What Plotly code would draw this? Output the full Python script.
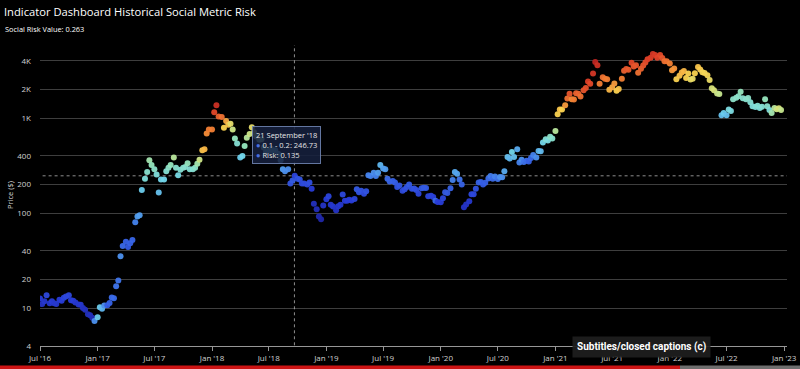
import math
import pandas as pd
import plotly.graph_objects as go

months = pd.date_range("2016-07-01", "2022-12-01", freq="MS")
day_offsets = [0, 7, 14, 21]

price = [
    # 2016 Jul..Dec
    12.6, 11.0, 11.8, 13.6,
    11.2, 11.8, 11.2, 11.0,
    12.2, 11.9, 12.8, 13.2,
    13.6, 12.1, 11.9, 11.4,
    10.9, 10.8, 10.0, 9.6,
    8.6, 8.4, 7.9, 7.3,
    # 2017
    8.0, 10.2, 9.8, 10.6,
    10.7, 11.3, 12.9, 12.7,
    17.0, 19.5, 35.0, 45.0,
    50.0, 44.0, 48.0, 52.0,
    80.0, 92.0, 95.0, 175.0,
    230.0, 270.0, 360.0, 320.0,
    290.0, 255.0, 165.0, 225.0,
    225.0, 275.0, 300.0, 320.0,
    385.0, 300.0, 250.0, 285.0,
    300.0, 305.0, 335.0, 290.0,
    290.0, 300.0, 330.0, 365.0,
    460.0, 470.0, 690.0, 760.0,
    # 2018
    760.0, 1150.0, 1370.0, 1040.0,
    1030.0, 790.0, 930.0, 850.0,
    870.0, 760.0, 610.0, 540.0,
    385.0, 400.0, 510.0, 620.0,
    680.0, 800.0, 710.0, 640.0,
    590.0, 600.0, 490.0, 440.0,
    450.0, 480.0, 450.0, 460.0,
    420.0, 360.0, 290.0, 275.0,
    290.0, 205.0, 220.0, 246.73,
    230.0, 225.0, 205.0, 205.0,
    200.0, 210.0, 180.0, 125.0,
    110.0, 92.0, 86.0, 120.0,
    # 2019
    140.0, 150.0, 122.0, 117.0,
    107.0, 118.0, 122.0, 157.0,
    135.0, 135.0, 138.0, 136.0,
    141.0, 178.0, 166.0, 172.0,
    160.0, 170.0, 250.0, 245.0,
    265.0, 245.0, 265.0, 320.0,
    295.0, 290.0, 230.0, 215.0,
    218.0, 210.0, 188.0, 195.0,
    172.0, 178.0, 188.0, 200.0,
    180.0, 181.0, 175.0, 160.0,
    182.0, 185.0, 184.0, 150.0,
    152.0, 148.0, 135.0, 131.0,
    # 2020
    130.0, 143.0, 166.0, 163.0,
    183.0, 223.0, 270.0, 260.0,
    225.0, 200.0, 115.0, 123.0,
    133.0, 158.0, 158.0, 180.0,
    210.0, 212.0, 200.0, 208.0,
    231.0, 245.0, 230.0, 243.0,
    228.0, 240.0, 238.0, 275.0,
    390.0, 375.0, 440.0, 390.0,
    470.0, 340.0, 365.0, 345.0,
    355.0, 350.0, 380.0, 410.0,
    385.0, 450.0, 447.0, 555.0,
    600.0, 580.0, 635.0, 610.0,
    # 2021
    730.0, 1100.0, 1230.0, 1230.0,
    1370.0, 1610.0, 1800.0, 1580.0,
    1570.0, 1830.0, 1800.0, 1690.0,
    1970.0, 2080.0, 2430.0, 2300.0,
    2950.0, 3900.0, 3600.0, 2300.0,
    2700.0, 2600.0, 2560.0, 1990.0,
    2110.0, 2320.0, 1940.0, 2030.0,
    2600.0, 3160.0, 3300.0, 3230.0,
    3830.0, 3500.0, 3600.0, 3000.0,
    3310.0, 3580.0, 3860.0, 4170.0,
    4320.0, 4730.0, 4630.0, 4320.0,
    4630.0, 4300.0, 3960.0, 3980.0,
    # 2022
    3770.0, 3200.0, 3330.0, 2560.0,
    2790.0, 3030.0, 3130.0, 2640.0,
    2950.0, 2550.0, 2600.0, 2970.0,
    3450.0, 3260.0, 3040.0, 2990.0,
    2830.0, 2520.0, 2060.0, 1970.0,
    1820.0, 1790.0, 1070.0, 1130.0,
    1070.0, 1230.0, 1190.0, 1580.0,
    1640.0, 1700.0, 1900.0, 1620.0,
    1580.0, 1630.0, 1470.0, 1330.0,
    1310.0, 1350.0, 1280.0, 1320.0,
    1580.0, 1330.0, 1220.0, 1130.0,
    1280.0, 1240.0, 1270.0, 1220.0,
]

risk = [
    # 2016
    0.12, 0.08, 0.10, 0.15,
    0.10, 0.12, 0.10, 0.10,
    0.12, 0.12, 0.14, 0.15,
    0.15, 0.12, 0.12, 0.10,
    0.10, 0.10, 0.08, 0.07,
    0.06, 0.06, 0.05, 0.30,
    # 2017
    0.40, 0.40, 0.36, 0.30,
    0.20, 0.22, 0.24, 0.24,
    0.26, 0.26, 0.30, 0.24,
    0.22, 0.20, 0.22, 0.23,
    0.28, 0.32, 0.32, 0.40,
    0.45, 0.47, 0.52, 0.50,
    0.48, 0.45, 0.38, 0.42,
    0.42, 0.46, 0.48, 0.50,
    0.55, 0.47, 0.43, 0.46,
    0.47, 0.47, 0.50, 0.46,
    0.46, 0.48, 0.52, 0.58,
    0.68, 0.70, 0.76, 0.78,
    # 2018
    0.78, 0.86, 0.92, 0.82,
    0.80, 0.66, 0.72, 0.68,
    0.62, 0.58, 0.50, 0.46,
    0.40, 0.42, 0.50, 0.55,
    0.58, 0.62, 0.60, 0.56,
    0.52, 0.52, 0.46, 0.44,
    0.42, 0.44, 0.42, 0.42,
    0.40, 0.38, 0.32, 0.30,
    0.30, 0.18, 0.20, 0.135,
    0.18, 0.18, 0.16, 0.16,
    0.16, 0.17, 0.12, 0.06,
    0.05, 0.03, 0.02, 0.08,
    # 2019
    0.12, 0.14, 0.10, 0.10,
    0.08, 0.10, 0.10, 0.15,
    0.12, 0.12, 0.12, 0.12,
    0.14, 0.20, 0.18, 0.18,
    0.16, 0.18, 0.28, 0.28,
    0.30, 0.28, 0.32, 0.36,
    0.33, 0.32, 0.25, 0.23,
    0.22, 0.21, 0.18, 0.19,
    0.16, 0.17, 0.18, 0.20,
    0.18, 0.18, 0.17, 0.15,
    0.20, 0.20, 0.20, 0.14,
    0.14, 0.13, 0.24, 0.12,
    # 2020
    0.12, 0.15, 0.20, 0.20,
    0.22, 0.28, 0.34, 0.33,
    0.26, 0.22, 0.08, 0.08,
    0.10, 0.15, 0.15, 0.18,
    0.22, 0.22, 0.20, 0.21,
    0.25, 0.27, 0.25, 0.28,
    0.26, 0.30, 0.30, 0.34,
    0.38, 0.36, 0.42, 0.38,
    0.34, 0.28, 0.30, 0.26,
    0.25, 0.22, 0.24, 0.28,
    0.30, 0.36, 0.37, 0.42,
    0.46, 0.44, 0.48, 0.47,
    # 2021
    0.55, 0.66, 0.68, 0.66,
    0.74, 0.80, 0.84, 0.76,
    0.78, 0.82, 0.82, 0.80,
    0.84, 0.85, 0.88, 0.86,
    0.90, 0.95, 0.92, 0.78,
    0.80, 0.79, 0.78, 0.70,
    0.72, 0.74, 0.66, 0.68,
    0.78, 0.82, 0.84, 0.83,
    0.86, 0.84, 0.84, 0.80,
    0.82, 0.84, 0.85, 0.87,
    0.88, 0.90, 0.89, 0.87,
    0.86, 0.84, 0.80, 0.80,
    # 2022
    0.78, 0.74, 0.75, 0.66,
    0.68, 0.70, 0.70, 0.66,
    0.66, 0.63, 0.63, 0.66,
    0.68, 0.67, 0.65, 0.65,
    0.65, 0.63, 0.60, 0.60,
    0.58, 0.57, 0.38, 0.40,
    0.38, 0.44, 0.44, 0.48,
    0.48, 0.48, 0.50, 0.47,
    0.47, 0.48, 0.46, 0.45,
    0.45, 0.46, 0.45, 0.46,
    0.50, 0.47, 0.45, 0.52,
    0.55, 0.58, 0.60, 0.57,
]

dates = [m + pd.Timedelta(days=d) for m in months for d in day_offsets]

y_tickvals = [4, 10, 20, 40, 100, 200, 400, 1000, 2000, 4000]
y_ticktext = ["4", "10", "20", "40", "100", "200", "400", "1K", "2K", "4K"]

hover_date = "2018-09-21"
hover_price = 246.73
hover_risk = 0.135

colorscale = [
    [0.00, "rgb(30,35,160)"],
    [0.12, "rgb(40,60,215)"],
    [0.25, "rgb(60,110,235)"],
    [0.33, "rgb(85,165,240)"],
    [0.42, "rgb(115,215,235)"],
    [0.50, "rgb(150,230,190)"],
    [0.58, "rgb(205,230,135)"],
    [0.66, "rgb(250,210,80)"],
    [0.76, "rgb(245,140,55)"],
    [0.87, "rgb(225,65,40)"],
    [1.00, "rgb(165,20,30)"],
]

fig = go.Figure()

# crosshair
fig.add_trace(go.Scatter(x=[hover_date, hover_date], y=[3.5, 7000], mode="lines",
                         line=dict(color="rgba(190,190,190,0.75)", width=1, dash="dot"),
                         hoverinfo="skip", showlegend=False))
fig.add_trace(go.Scatter(x=["2016-06-01", "2023-02-01"], y=[hover_price, hover_price], mode="lines",
                         line=dict(color="rgba(190,190,190,0.75)", width=1, dash="dot"),
                         hoverinfo="skip", showlegend=False))

fig.add_trace(go.Scatter(
    x=dates, y=price, mode="markers",
    marker=dict(size=6, color=risk, cmin=0, cmax=1, colorscale=colorscale,
                showscale=False, opacity=0.95, line=dict(width=0)),
    showlegend=False,
))

FONT = "Open Sans"
W, H = 800, 369
L, R, T, B = 40, 13, 45, 23
pw, ph = W - L - R, H - T - B


def px(xp):
    return (xp - L) / pw


def py(yp):
    return (H - B - yp) / ph


fig.update_layout(
    width=W, height=H,
    margin=dict(l=L, r=R, t=T, b=B, autoexpand=False),
    paper_bgcolor="black", plot_bgcolor="black",
    hovermode=False,
    font=dict(family=FONT, color="#d8d8d8", size=8),
    title=dict(text="Indicator Dashboard Historical Social Metric Risk",
               x=4 / W, xanchor="left", xref="container",
               y=1 - 12 / H, yanchor="middle", yref="container",
               font=dict(family=FONT, size=11.2, color="white")),
    xaxis=dict(
        type="date", range=["2016-07-01", "2023-01-10"], automargin=False,
        tick0="2016-07-01", dtick="M6", tickformat="%b '%y",
        showgrid=False, zeroline=False,
        showline=True, linecolor="rgb(150,150,150)", linewidth=1,
        ticks="outside", ticklen=4, tickcolor="rgb(150,150,150)",
        tickfont=dict(size=8, color="#d0d0d0"),
    ),
    yaxis=dict(
        type="log", range=[math.log10(3.98), 3.77], automargin=False,
        tickvals=y_tickvals, ticktext=y_ticktext,
        showgrid=True, gridcolor="rgb(62,62,62)", gridwidth=1,
        zeroline=False, showline=False, ticks="", ticklabelstandoff=8,
        tickfont=dict(size=8, color="#d0d0d0"),
    ),
)

annotations = [
    dict(text="Social Risk Value: 0.263", xref="paper", yref="paper",
         x=px(3), y=py(29), xanchor="left", yanchor="middle", showarrow=False,
         font=dict(family=FONT, size=7.4, color="white")),
    dict(text="Price ($)", xref="paper", yref="paper", x=px(10), y=py(195),
         xanchor="center", yanchor="middle", textangle=-90, showarrow=False,
         font=dict(family=FONT, size=7.5, color="#d8d8d8")),
    dict(text=(f"21 September '18<br>"
               f"<span style='color:#4a6fe0'>●</span> 0.1 - 0.2: {hover_price}<br>"
               f"<span style='color:#4a6fe0'>●</span> Risk: {hover_risk}"),
         xref="paper", yref="paper", x=px(252), y=py(126),
         xanchor="left", yanchor="top", align="left", showarrow=False,
         bgcolor="rgba(22,32,62,0.88)", bordercolor="rgba(110,130,175,0.9)",
         borderwidth=1, borderpad=3,
         font=dict(family=FONT, size=7.5, color="#e6e6e6")),
    dict(text="<b>Subtitles/closed captions (c)</b>", xref="paper", yref="paper",
         x=px(641), y=py(347), xanchor="center", yanchor="middle", showarrow=False,
         bgcolor="rgba(30,30,30,0.92)", borderpad=4,
         font=dict(family="Roboto", size=10, color="white")),
]
fig.update_layout(annotations=annotations)

fig.update_layout(shapes=[
    dict(type="rect", xref="paper", yref="paper", x0=px(0), x1=px(680),
         y0=py(369), y1=py(365.5), fillcolor="rgb(205,20,20)", line=dict(width=0), layer="above"),
    dict(type="rect", xref="paper", yref="paper", x0=px(680), x1=px(800),
         y0=py(369), y1=py(365.5), fillcolor="rgb(110,110,110)", line=dict(width=0), layer="above"),
])

fig.write_html("out.html")
